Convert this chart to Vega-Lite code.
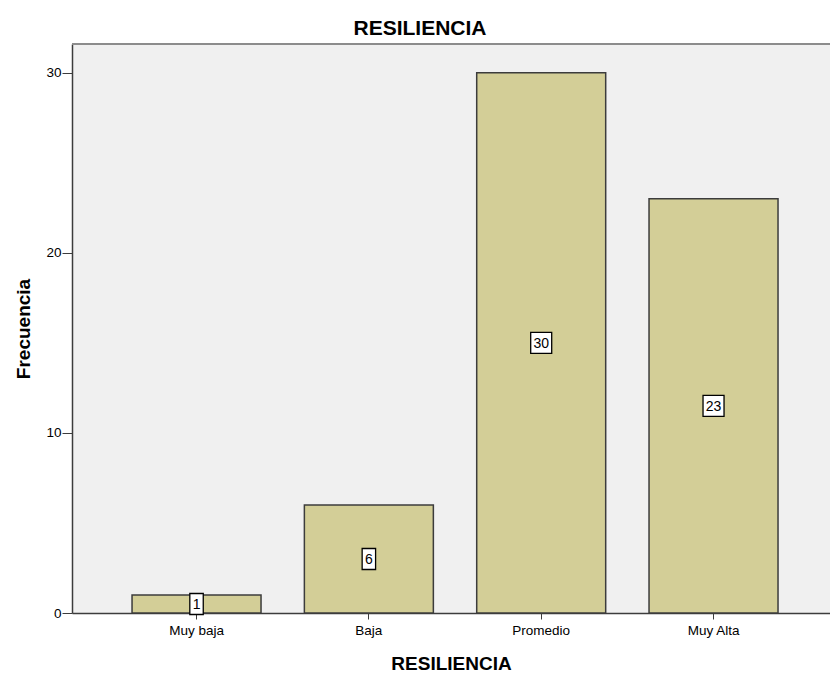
{
  "$schema": "https://vega.github.io/schema/vega-lite/v6.json",
  "autosize": "none",
  "width": 758,
  "height": 569,
  "padding": {"left": 72, "top": 44, "right": 0, "bottom": 62},
  "background": "white",
  "title": {"text": "RESILIENCIA", "font": "Liberation Sans", "fontSize": 21, "fontWeight": "bold", "color": "#000000", "offset": 4, "dx": -31},
  "config": {
    "view": {"stroke": null, "fill": "#F0F0F0"},
    "axis": {"labelFont": "Liberation Sans", "titleFont": "Liberation Sans", "labelColor": "#000000", "titleColor": "#000000", "domainColor": "#3C3C3C", "tickColor": "#3C3C3C", "grid": false}
  },
  "data": {"values": [
    {"nivel": "Muy baja", "frecuencia": 1},
    {"nivel": "Baja", "frecuencia": 6},
    {"nivel": "Promedio", "frecuencia": 30},
    {"nivel": "Muy Alta", "frecuencia": 23}
  ]},
  "encoding": {
    "x": {"field": "nivel", "type": "nominal", "sort": ["Muy baja", "Baja", "Promedio", "Muy Alta"],
      "scale": {"paddingInner": 0.2515, "paddingOuter": 0.325, "align": 0.536, "round": false},
      "axis": {"title": "RESILIENCIA", "titleFontSize": 19, "titleFontWeight": "bold", "titlePadding": 18, "labelFontSize": 13.5, "labelAngle": 0, "tickSize": 6, "labelPadding": 4, "domainWidth": 1.5}}
  },
  "layer": [
    {
      "mark": {"type": "bar", "fill": "#D3CE97", "stroke": "#3C3C3C", "strokeWidth": 1.5},
      "encoding": {
        "y": {"field": "frecuencia", "type": "quantitative",
          "scale": {"domain": [0, 31.6], "nice": false, "zero": true},
          "axis": {"title": "Frecuencia", "titleFontSize": 19, "titleFontWeight": "bold", "titlePadding": 12, "values": [0, 10, 20, 30], "labelFontSize": 13.5, "tickSize": 10, "labelPadding": 1, "domainWidth": 1.5}}
      }
    },
    {
      "mark": {"type": "rule", "color": "#8C8C8C", "strokeWidth": 2},
      "encoding": {"y": {"datum": 31.6, "type": "quantitative"}, "x": {"value": 0}, "x2": {"value": 758}}
    },
    {
      "transform": [{"calculate": "datum.frecuencia / 2", "as": "mitad"}],
      "layer": [
        {
          "transform": [{"filter": "datum.frecuencia < 10"}],
          "mark": {"type": "point", "shape": "M-0.64,-1L0.64,-1L0.64,1L-0.64,1Z", "size": 441, "filled": true, "fill": "#FFFFFF", "stroke": "#000000", "strokeWidth": 1.3, "opacity": 1},
          "encoding": {"y": {"field": "mitad", "type": "quantitative"}}
        },
        {
          "transform": [{"filter": "datum.frecuencia >= 10"}],
          "mark": {"type": "point", "shape": "M-1,-1L1,-1L1,1L-1,1Z", "size": 441, "filled": true, "fill": "#FFFFFF", "stroke": "#000000", "strokeWidth": 1.3, "opacity": 1},
          "encoding": {"y": {"field": "mitad", "type": "quantitative"}}
        },
        {
          "mark": {"type": "text", "font": "Liberation Sans", "fontSize": 14, "color": "#000000", "baseline": "middle", "align": "center", "dy": 1},
          "encoding": {"y": {"field": "mitad", "type": "quantitative"}, "text": {"field": "frecuencia", "type": "quantitative"}}
        }
      ]
    }
  ]
}
